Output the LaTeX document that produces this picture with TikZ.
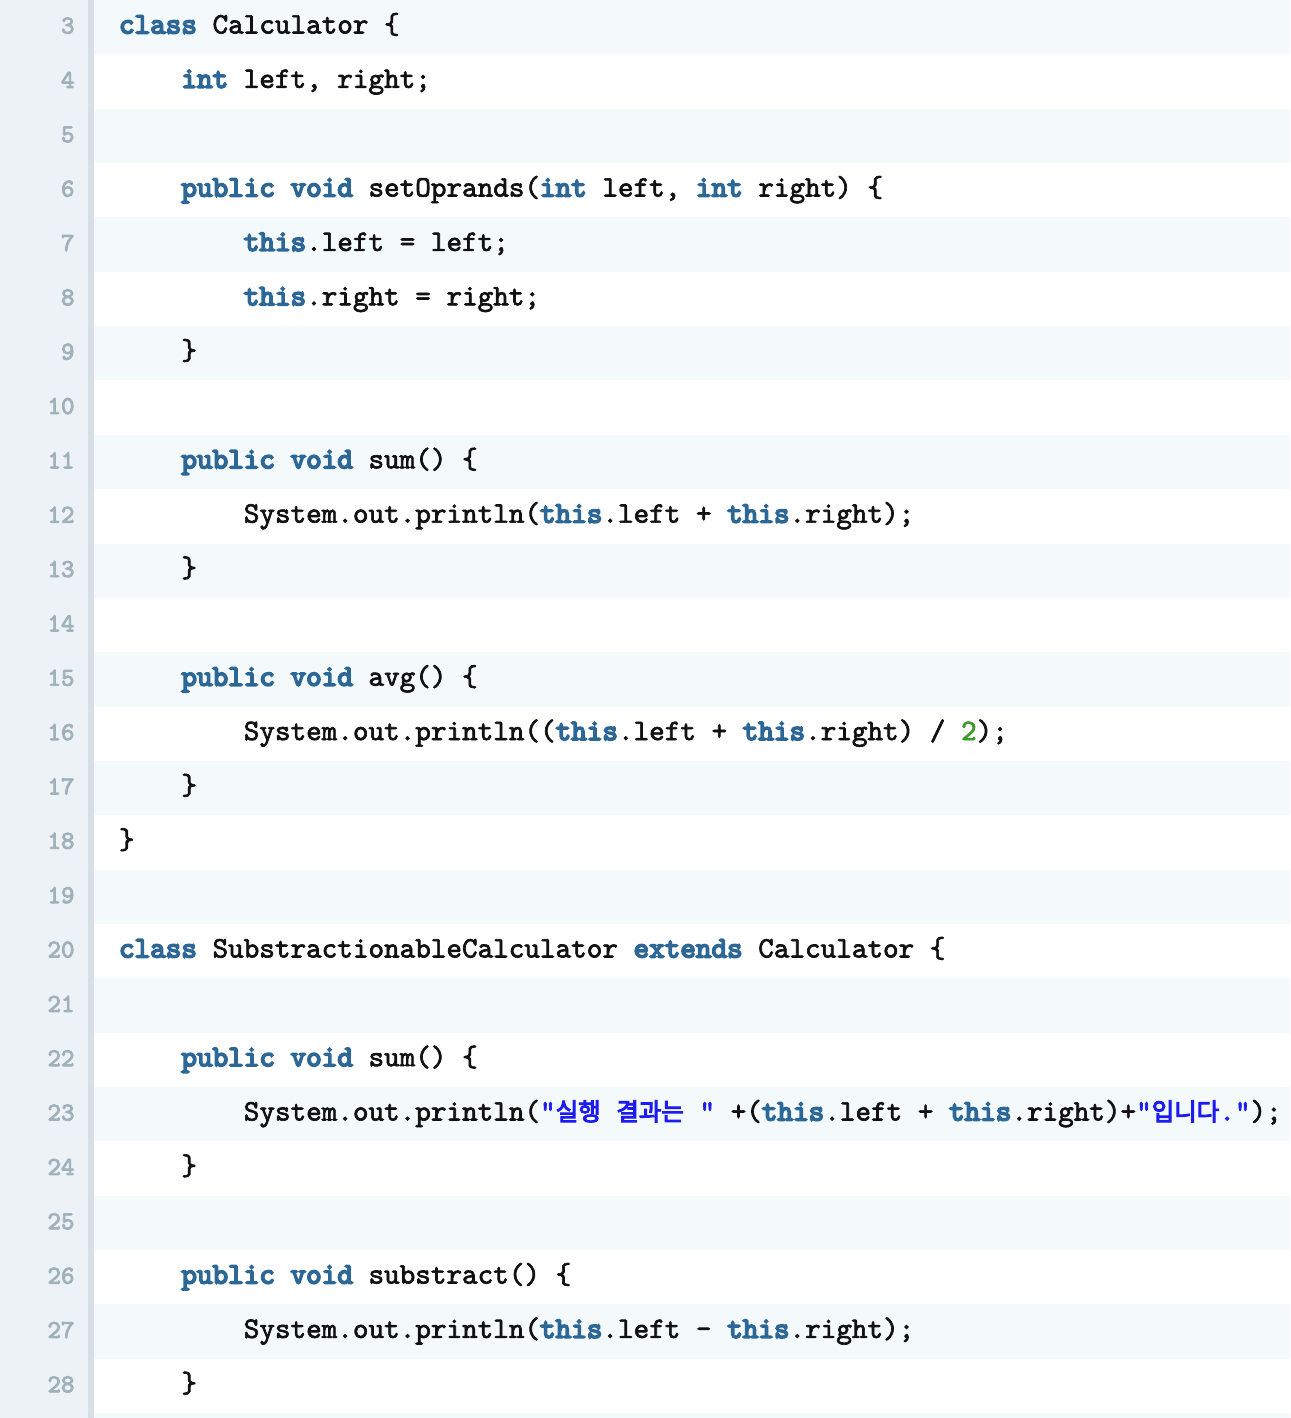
\documentclass[tikz,border=0pt]{standalone}
\usepackage{fontspec}
\newfontfamily\codefont{lmmono10-regular.otf}[Ligatures=TeXOff, FakeBold=2.2,
  BoldFont=lmmono10-regular.otf, BoldFeatures={FakeBold=5.5}]
\newfontfamily\krfont{Noto Sans CJK KR}[FakeBold=4]
\newfontfamily\numfont{lmmono10-regular.otf}[Ligatures=TeXOff, FakeBold=3.5]
\definecolor{gutterbg}{HTML}{ECF2F5}
\definecolor{gutterbar}{HTML}{D5DFE4}
\definecolor{rowlight}{HTML}{F4F9FC}
\definecolor{lnumcol}{HTML}{A0B1BA}
\definecolor{kwblue}{HTML}{2C6796}
\definecolor{strblue}{HTML}{1C1CF0}
\definecolor{numgreen}{HTML}{3C9A28}
\definecolor{codeblack}{HTML}{111111}
\newcommand\ckw[1]{{\bfseries\color{kwblue}#1}}
\newcommand\cstr[1]{{\color{strblue}#1}}
\newcommand\cnum[1]{{\color{numgreen}#1}}
\newcommand\ckr[1]{{\krfont\fontsize{24.5pt}{25pt}\selectfont #1}}
\tikzset{
  codeline/.style={anchor=base west, inner sep=0pt, outer sep=0pt, text=codeblack,
    font=\codefont\fontsize{29.7pt}{30pt}\selectfont},
  lnum/.style={anchor=base east, inner sep=0pt, outer sep=0pt, text=lnumcol,
    font=\numfont\fontsize{25.7pt}{26pt}\selectfont}
}
\begin{document}
\begin{tikzpicture}[x=1pt,y=-1pt]
\useasboundingbox (0,0) rectangle (1290,1418);
\fill[white] (0,0) rectangle (1290,1418);
% row stripes
\foreach \k in {0,2,...,24} {
  \fill[rowlight] (94,{\k*54.35}) rectangle (1290,{(\k+1)*54.35});
}
\fill[rowlight] (94,{26*54.35}) rectangle (1290,1418);
% gutter
\fill[gutterbg] (0,0) rectangle (88,1418);
\fill[gutterbar] (88,0) rectangle (94,1418);
% line numbers
\foreach \n in {3,...,28} {
  \node[lnum] (n\n) at (74.5,{(\n-3)*54.35+33.5}) {\n};
}
% code
\def\xa{119}
\def\xb{181.4}
\def\xc{243.8}
\node[codeline] (c3) at (\xa,{0*54.35+33.5}) {\ckw{class} Calculator \{};
\node[codeline] (c4) at (\xb,{1*54.35+33.5}) {\ckw{int} left, right;};
\node[codeline] (c6) at (\xb,{3*54.35+33.5}) {\ckw{public} \ckw{void} setOprands(\ckw{int} left, \ckw{int} right) \{};
\node[codeline] (c7) at (\xc,{4*54.35+33.5}) {\ckw{this}.left = left;};
\node[codeline] (c8) at (\xc,{5*54.35+33.5}) {\ckw{this}.right = right;};
\node[codeline] (c9) at (\xb,{6*54.35+33.5}) {\}};
\node[codeline] (c11) at (\xb,{8*54.35+33.5}) {\ckw{public} \ckw{void} sum() \{};
\node[codeline] (c12) at (\xc,{9*54.35+33.5}) {System.out.println(\ckw{this}.left + \ckw{this}.right);};
\node[codeline] (c13) at (\xb,{10*54.35+33.5}) {\}};
\node[codeline] (c15) at (\xb,{12*54.35+33.5}) {\ckw{public} \ckw{void} avg() \{};
\node[codeline] (c16) at (\xc,{13*54.35+33.5}) {System.out.println((\ckw{this}.left + \ckw{this}.right) / \cnum{2});};
\node[codeline] (c17) at (\xb,{14*54.35+33.5}) {\}};
\node[codeline] (c18) at (\xa,{15*54.35+33.5}) {\}};
\node[codeline] (c20) at (\xa,{17*54.35+33.5}) {\ckw{class} SubstractionableCalculator \ckw{extends} Calculator \{};
\node[codeline] (c22) at (\xb,{19*54.35+33.5}) {\ckw{public} \ckw{void} sum() \{};
\node[codeline] (c23) at (\xc,{20*54.35+33.5}) {System.out.println(\cstr{"\ckr{실행} \ckr{결과는} "} +(\ckw{this}.left + \ckw{this}.right)+\cstr{"\ckr{입니다}."});};
\node[codeline] (c24) at (\xb,{21*54.35+33.5}) {\}};
\node[codeline] (c26) at (\xb,{23*54.35+33.5}) {\ckw{public} \ckw{void} substract() \{};
\node[codeline] (c27) at (\xc,{24*54.35+33.5}) {System.out.println(\ckw{this}.left - \ckw{this}.right);};
\node[codeline] (c28) at (\xb,{25*54.35+33.5}) {\}};
\end{tikzpicture}
\end{document}
